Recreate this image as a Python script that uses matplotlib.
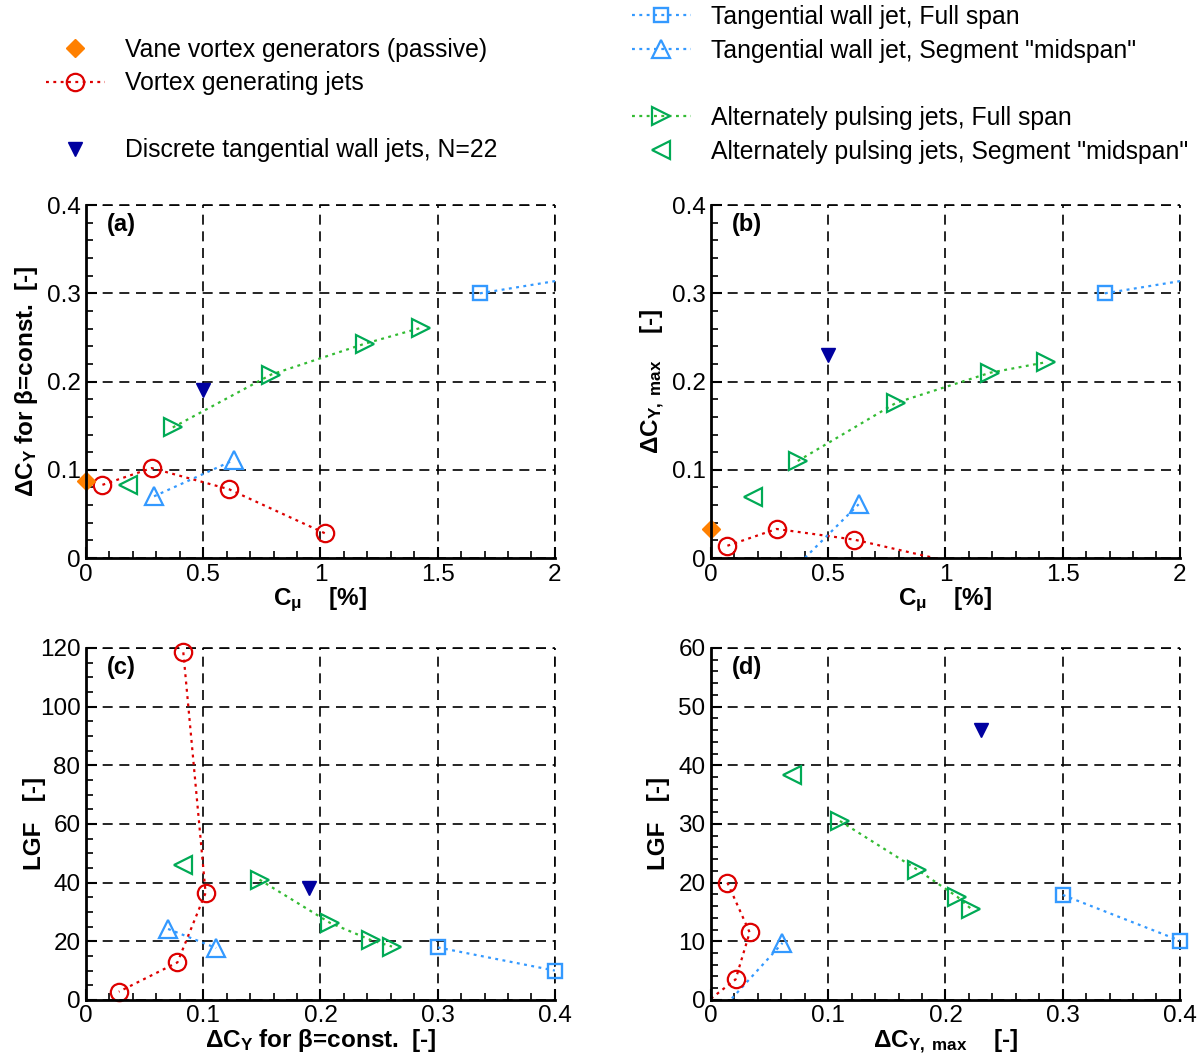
import matplotlib
matplotlib.use('Agg')
import matplotlib.pyplot as plt
from matplotlib.lines import Line2D
from matplotlib.ticker import MultipleLocator, FuncFormatter
import numpy as np

plt.rcParams['font.family'] = ['Liberation Sans', 'DejaVu Sans']
plt.rcParams['mathtext.fontset'] = 'custom'
plt.rcParams['mathtext.rm'] = 'Liberation Sans'
plt.rcParams['mathtext.it'] = 'Liberation Sans'
plt.rcParams['mathtext.bf'] = 'Liberation Sans:bold'
plt.rcParams['mathtext.default'] = 'regular'

# ---------------- data ----------------
# Vane vortex generators (passive)
vane_cmu = [0.0]
vane_dcy = [0.087]
vane_dcymax = [0.033]

# Vortex generating jets
vgj_cmu = [0.07, 0.28, 0.61, 1.02]
vgj_dcy = [0.083, 0.102, 0.078, 0.028]
vgj_dcymax = [0.014, 0.033, 0.021, -0.004]
vgj_lgf_dcy = [118.5, 36.5, 12.8, 2.8]
vgj_lgf_dcymax = [20.0, 11.5, 3.5, -0.4]

# Discrete tangential wall jets, N=22
dtwj_cmu = [0.5]
dtwj_dcy = [0.190]
dtwj_dcymax = [0.230]
dtwj_lgf_dcy = [38.0]
dtwj_lgf_dcymax = [46.0]

# Tangential wall jet, Full span
twjf_cmu = [1.68, 4.0]
twjf_dcy = [0.300, 0.400]
twjf_dcymax = [0.300, 0.400]
twjf_lgf_dcy = [17.9, 10.0]
twjf_lgf_dcymax = [17.9, 10.1]

# Tangential wall jet, Segment "midspan"
twjm_cmu = [0.29, 0.63]
twjm_dcy = [0.070, 0.111]
twjm_dcymax = [-0.029, 0.061]
twjm_lgf_dcy = [24.2, 17.7]
twjm_lgf_dcymax = [-10.0, 9.7]

# Alternately pulsing jets, Full span
apjf_cmu = [0.37, 0.79, 1.19, 1.43]
apjf_dcy = [0.148, 0.208, 0.243, 0.261]
apjf_dcymax = [0.110, 0.176, 0.210, 0.222]
apjf_lgf_dcy = [41.0, 26.3, 20.4, 18.2]
apjf_lgf_dcymax = [30.5, 22.2, 17.6, 15.5]

# Alternately pulsing jets, Segment "midspan"
apjm_cmu = [0.18]
apjm_dcy = [0.083]
apjm_dcymax = [0.069]
apjm_lgf_dcy = [46.0]
apjm_lgf_dcymax = [38.3]

labels = ['Vane vortex generators (passive)',
          'Vortex generating jets',
          'Discrete tangential wall jets, N=22',
          'Tangential wall jet, Full span',
          'Tangential wall jet, Segment "midspan"',
          'Alternately pulsing jets, Full span',
          'Alternately pulsing jets, Segment "midspan"']

# ---------------- styles ----------------
RED = '#DD0000'
BLUE = '#3399FF'
GREEN = '#00AA55'
GREENL = '#33BB33'
DBLUE = '#0000A0'
ORANGE = '#FF8000'
DOT = (0, (1.3, 2.0))

styles = {
    'vane': dict(marker='D', ms=9.5, mfc=ORANGE, mec=ORANGE, mew=1.0, color=ORANGE, ls='none'),
    'vgj': dict(marker='o', ms=12.5, mfc='none', mec=RED, mew=1.6, color=RED, ls=DOT),
    'dtwj': dict(marker='v', ms=10.5, mfc=DBLUE, mec=DBLUE, mew=1.0, color=DBLUE, ls='none'),
    'twjf': dict(marker='s', ms=10.5, mfc='none', mec=BLUE, mew=1.7, color=BLUE, ls=DOT),
    'twjm': dict(marker='^', ms=12.5, mfc='none', mec=BLUE, mew=1.6, color=BLUE, ls=DOT),
    'apjf': dict(marker='>', ms=12.5, mfc='none', mec=GREEN, mew=1.6, color=GREENL, ls=DOT),
    'apjm': dict(marker='<', ms=12.5, mfc='none', mec=GREEN, mew=1.6, color=GREENL, ls='none'),
}


def series(ax, x, y, key):
    st = dict(styles[key])
    x = np.asarray(x, float)
    y = np.asarray(y, float)
    ls = st.pop('ls')
    col = st.pop('color')
    if ls != 'none' and len(x) > 1:
        ax.plot(x, y, ls=ls, color=col, lw=1.6, zorder=3)
    x0, x1 = ax.get_xlim()
    y0, y1 = ax.get_ylim()
    tol = 1e-9
    m = (x >= x0 - tol) & (x <= x1 + tol) & (y >= y0 - tol) & (y <= y1 + tol)
    ax.plot(x[m], y[m], ls='none', clip_on=False, zorder=4, **st)


fmt = FuncFormatter(lambda v, p: f'{v:g}')


def style_axes(ax, xlim, ylim, xmaj, xmin, ymaj, ymin, tag):
    ax.set_xlim(*xlim)
    ax.set_ylim(*ylim)
    ax.xaxis.set_major_locator(MultipleLocator(xmaj))
    ax.xaxis.set_minor_locator(MultipleLocator(xmin))
    ax.yaxis.set_major_locator(MultipleLocator(ymaj))
    ax.yaxis.set_minor_locator(MultipleLocator(ymin))
    ax.xaxis.set_major_formatter(fmt)
    ax.yaxis.set_major_formatter(fmt)
    for s in ['top', 'right']:
        ax.spines[s].set_visible(False)
    for s in ['left', 'bottom']:
        ax.spines[s].set_linewidth(2.0)
        ax.spines[s].set_zorder(5)
    ax.tick_params(which='both', direction='in', top=False, right=False,
                   labelsize=17.5, pad=4)
    ax.tick_params(which='major', length=8, width=1.5)
    ax.tick_params(which='minor', length=5, width=1.2)
    ax.grid(True, which='major', color='black', ls=(0, (6, 4)), lw=1.2, zorder=1)
    ax.set_axisbelow(True)
    # grid lines at the far edges
    ax.axhline(ylim[1], color='black', ls=(0, (6, 4)), lw=1.2, clip_on=False, zorder=1)
    ax.axvline(xlim[1], color='black', ls=(0, (6, 4)), lw=1.2, clip_on=False, zorder=1)
    ax.text(0.045, 0.945, tag, transform=ax.transAxes, fontsize=17,
            fontweight='bold', ha='left', va='center')


fig = plt.figure(figsize=(12.03, 10.57), dpi=100)
W, H = 0.3898, 0.334
axa = fig.add_axes([0.0715, 0.472, W, H])
axb = fig.add_axes([0.591, 0.472, W, H])
axc = fig.add_axes([0.0715, 0.054, W, 0.333])
axd = fig.add_axes([0.591, 0.054, W, 0.333])

style_axes(axa, (0, 2), (0, 0.4), 0.5, 0.1, 0.1, 0.02, '(a)')
style_axes(axb, (0, 2), (0, 0.4), 0.5, 0.1, 0.1, 0.02, '(b)')
style_axes(axc, (0, 0.4), (0, 120), 0.1, 0.02, 20, 5, '(c)')
style_axes(axd, (0, 0.4), (0, 60), 0.1, 0.02, 10, 2, '(d)')

# (a)
series(axa, vgj_cmu, vgj_dcy, 'vgj')
series(axa, twjf_cmu, twjf_dcy, 'twjf')
series(axa, twjm_cmu, twjm_dcy, 'twjm')
series(axa, apjf_cmu, apjf_dcy, 'apjf')
series(axa, apjm_cmu, apjm_dcy, 'apjm')
series(axa, dtwj_cmu, dtwj_dcy, 'dtwj')
series(axa, vane_cmu, vane_dcy, 'vane')

# (b)
series(axb, vgj_cmu, vgj_dcymax, 'vgj')
series(axb, twjf_cmu, twjf_dcymax, 'twjf')
series(axb, twjm_cmu, twjm_dcymax, 'twjm')
series(axb, apjf_cmu, apjf_dcymax, 'apjf')
series(axb, apjm_cmu, apjm_dcymax, 'apjm')
series(axb, dtwj_cmu, dtwj_dcymax, 'dtwj')
series(axb, vane_cmu, vane_dcymax, 'vane')

# (c)
series(axc, vgj_dcy, vgj_lgf_dcy, 'vgj')
series(axc, twjf_dcy, twjf_lgf_dcy, 'twjf')
series(axc, twjm_dcy, twjm_lgf_dcy, 'twjm')
series(axc, apjf_dcy, apjf_lgf_dcy, 'apjf')
series(axc, apjm_dcy, apjm_lgf_dcy, 'apjm')
series(axc, dtwj_dcy, dtwj_lgf_dcy, 'dtwj')

# (d)
series(axd, vgj_dcymax, vgj_lgf_dcymax, 'vgj')
series(axd, twjf_dcymax, twjf_lgf_dcymax, 'twjf')
series(axd, twjm_dcymax, twjm_lgf_dcymax, 'twjm')
series(axd, apjf_dcymax, apjf_lgf_dcymax, 'apjf')
series(axd, apjm_dcymax, apjm_lgf_dcymax, 'apjm')
series(axd, dtwj_dcymax, dtwj_lgf_dcymax, 'dtwj')

lab_kw = dict(fontsize=17.5, fontweight='bold')
axa.set_xlabel('C$_{\\mu}$    [%]', labelpad=0, **lab_kw)
axb.set_xlabel('C$_{\\mu}$    [%]', labelpad=0, **lab_kw)
axa.set_ylabel('ΔC$_{Y}$ for β=const.  [-]', **lab_kw)
axb.set_ylabel('ΔC$_{Y,\\ max}$    [-]', **lab_kw)
axc.set_xlabel('ΔC$_{Y}$ for β=const.  [-]', labelpad=0, **lab_kw)
axd.set_xlabel('ΔC$_{Y,\\ max}$    [-]', labelpad=0, **lab_kw)
axc.set_ylabel('LGF   [-]', **lab_kw)
axd.set_ylabel('LGF   [-]', **lab_kw)
axa.yaxis.set_label_coords(-0.098, 0.5)
axb.yaxis.set_label_coords(-0.094, 0.5)
axc.yaxis.set_label_coords(-0.085, 0.5)
axd.yaxis.set_label_coords(-0.087, 0.5)


def handle(key):
    st = dict(styles[key])
    ls = st.pop('ls')
    col = st.pop('color')
    return Line2D([], [], ls=ls, color=col, lw=1.6, **st)


blank = Line2D([], [], ls='none')
leg_kw = dict(frameon=False, fontsize=17.8, handlelength=2.4, handletextpad=0.8,
              labelspacing=0.39, borderpad=0, borderaxespad=0, loc='upper left')

fig.legend([handle('vane'), handle('vgj'), blank, handle('dtwj')],
           [labels[0], labels[1], ' ', labels[2]],
           bbox_to_anchor=(0.038, 0.9645), **leg_kw)
fig.legend([handle('twjf'), handle('twjm'), blank, handle('apjf'), handle('apjm')],
           [labels[3], labels[4], ' ', labels[5], labels[6]],
           bbox_to_anchor=(0.525, 0.9952), **leg_kw)

fig.savefig('out.png', dpi=100)
